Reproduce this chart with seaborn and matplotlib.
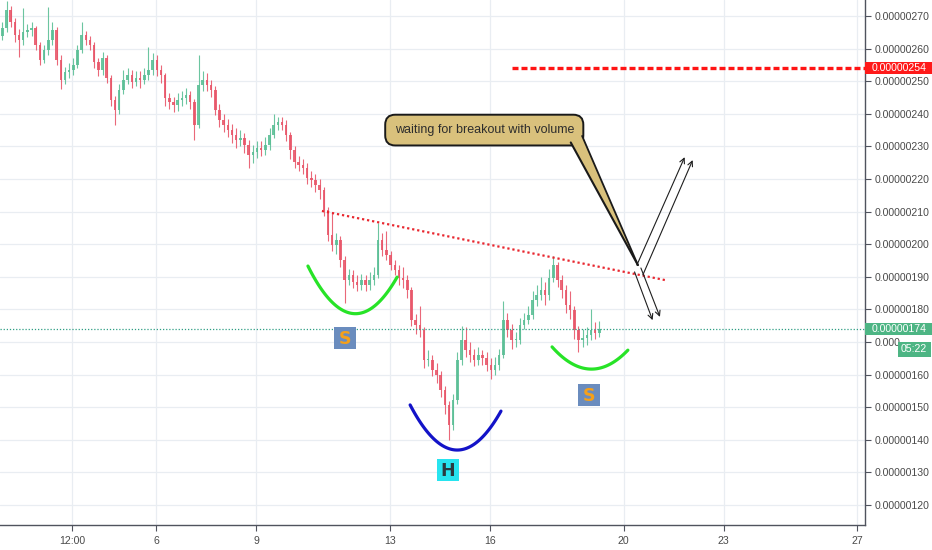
import numpy as np
import pandas as pd
import matplotlib
matplotlib.use("Agg")
import matplotlib.pyplot as plt
import matplotlib.transforms as mtransforms
from matplotlib.patches import Rectangle, Polygon
import seaborn as sns

# ---------------- data (prices in units of 1e-8) ----------------
first_open = 264.0
start_day = 1.40
step_day = 0.125  # 3h candles

close = [266.3, 271.8, 268.2, 264.2, 262.6, 265.1, 265.7, 266.3, 261.1, 256.5,
         259.6, 262.6, 265.7, 256.5, 250.4, 252.8, 253.4, 255.0, 259.6, 264.2,
         262.6, 261.1, 255.9, 253.4, 257.1, 251.0, 244.2, 241.2, 247.3, 250.4,
         251.9, 249.8, 251.0, 250.4, 251.9, 253.4, 256.5, 253.4, 251.9, 244.8,
         243.6, 242.7, 244.2, 244.8, 245.8, 243.6, 236.6, 248.8, 250.4, 248.8,
         247.3, 241.2, 238.1, 236.6, 235.0, 233.5, 232.0, 232.6, 230.4, 227.4,
         228.3, 229.5, 228.9, 230.4, 233.5, 236.6, 237.5, 236.6, 233.5, 228.9,
         225.2, 224.3, 223.4, 220.3, 219.7, 218.2, 216.6, 210.5, 202.8, 199.8,
         201.3, 195.2, 189.0, 190.6, 188.4, 187.5, 189.0, 187.5, 189.0, 190.6,
         201.3, 198.2, 196.7, 193.6, 192.1, 189.6, 189.0, 186.0, 176.7, 175.2,
         173.7, 164.5, 164.5, 161.4, 159.9, 155.3, 150.7, 144.5, 152.2, 164.5,
         170.6, 167.5, 166.0, 164.5, 166.0, 165.1, 163.0, 161.4, 163.0, 166.0,
         176.7, 173.7, 170.6, 170.6, 175.2, 176.7, 178.3, 182.9, 184.4, 186.0,
         184.4, 189.6, 193.6, 189.0, 186.0, 181.3, 179.8, 173.7, 170.6, 171.2,
         172.1, 173.7, 172.8, 174.0]

high = [268.0, 274.5, 273.0, 269.5, 266.0, 272.5, 267.5, 268.0, 267.0, 262.0,
        261.0, 272.8, 268.0, 266.5, 258.0, 254.5, 255.5, 257.0, 261.0, 268.0,
        265.5, 264.0, 262.0, 257.0, 259.0, 258.0, 252.0, 245.5, 249.0, 253.5,
        254.0, 253.5, 253.0, 253.0, 254.0, 260.5, 258.5, 258.0, 255.0, 252.5,
        246.5, 245.0, 246.5, 247.0, 248.0, 247.0, 244.5, 258.0, 253.0, 252.5,
        250.5, 248.5, 243.0, 240.0, 238.5, 237.0, 235.5, 235.0, 234.0, 232.0,
        230.5, 231.5, 231.5, 233.0, 235.5, 240.0, 239.0, 239.0, 238.0, 234.5,
        230.0, 227.0, 226.0, 225.0, 222.5, 221.5, 220.0, 217.5, 211.5, 209.5,
        203.5, 202.5, 196.5, 192.5, 192.0, 190.5, 191.0, 190.5, 191.5, 193.0,
        206.5, 203.5, 204.0, 198.0, 195.0, 193.5, 193.0, 190.5, 187.0, 178.5,
        181.0, 174.5, 167.5, 166.0, 163.5, 161.0, 156.5, 152.0, 154.0, 167.0,
        175.0, 174.5, 170.0, 168.0, 168.5, 167.5, 167.0, 165.0, 165.5, 168.0,
        182.5, 179.0, 175.5, 173.0, 177.5, 179.0, 181.0, 185.5, 187.5, 190.0,
        188.5, 192.5, 196.5, 194.5, 190.5, 187.5, 185.5, 181.0, 175.0, 174.0,
        174.5, 180.0, 176.0, 176.5]

low = [262.5, 265.0, 266.5, 262.0, 257.5, 261.0, 263.5, 264.0, 259.5, 255.0,
       255.5, 258.0, 261.0, 255.0, 247.5, 249.0, 251.0, 252.0, 254.0, 258.5,
       261.0, 259.5, 254.0, 251.5, 252.0, 249.5, 242.5, 236.5, 240.0, 246.0,
       249.0, 248.0, 248.5, 248.0, 249.0, 250.5, 252.0, 251.5, 249.5, 242.5,
       241.5, 240.5, 241.0, 242.5, 243.0, 241.5, 232.0, 235.5, 247.0, 247.0,
       245.0, 239.5, 236.0, 234.5, 233.0, 231.0, 229.5, 230.0, 228.0, 223.5,
       225.0, 226.5, 227.0, 227.5, 229.0, 232.5, 235.0, 235.0, 231.5, 226.0,
       223.5, 222.5, 221.5, 218.5, 217.5, 216.0, 214.0, 208.5, 201.0, 198.0,
       197.0, 193.0, 182.0, 187.5, 186.5, 185.5, 186.0, 185.5, 186.0, 187.5,
       189.5, 196.5, 195.0, 192.0, 190.5, 187.5, 186.5, 183.5, 175.0, 172.5,
       171.5, 162.0, 162.5, 159.5, 157.5, 153.0, 148.0, 140.0, 143.0, 151.0,
       163.0, 165.5, 164.0, 162.5, 163.0, 163.0, 161.0, 158.5, 160.0, 161.5,
       165.0, 171.5, 168.0, 168.5, 169.5, 174.0, 175.5, 177.0, 181.0, 183.0,
       181.5, 183.0, 188.5, 187.0, 183.5, 179.0, 177.0, 171.0, 167.0, 168.5,
       169.0, 170.5, 171.0, 171.5]

y_ticks = [120, 130, 140, 150, 160, 170, 180, 190, 200, 210, 220, 230, 240, 250, 260, 270]
y_labels = ["0.00000120", "0.00000130", "0.00000140", "0.00000150", "0.00000160",
            "0.000", "0.00000180", "0.00000190", "0.00000200", "0.00000210",
            "0.00000220", "0.00000230", "0.00000240", "0.00000250", "0.00000260",
            "0.00000270"]
x_ticks = [3.5, 6, 9, 13, 16, 20, 23, 27]
x_labels = ["12:00", "6", "9", "13", "16", "20", "23", "27"]

last_price = 174
target_price = 254
target_start_day = 16.66
countdown = "05:22"

# annotation drawing anchors (day, price)
trend_pts_day = [10.97, 21.24]
trend_pts_price = [210.2, 189.0]
left_shoulder = [(10.55, 193.3), (11.80, 178.9), (13.22, 189.9)]
head = [(13.61, 150.7), (14.80, 137.2), (16.33, 148.8)]
right_shoulder = [(17.86, 168.5), (18.99, 161.7), (20.13, 167.5)]
labels = [("S", 11.66, 171.2, "#6a8cbe", "#f5a01a"),
          ("S", 18.96, 153.7, "#6a8cbe", "#f5a01a"),
          ("H", 14.74, 130.7, "#27e4ef", "#2b3a3f")]
callout_text = "waiting for breakout with volume"
callout_center = (15.83, 235.0)
callout_tail = [(18.42, 231.2), (18.76, 233.2), (20.43, 193.6)]
arrows = [((20.40, 193.6), (21.83, 226.7)),
          ((20.58, 190.6), (22.07, 225.8)),
          ((20.33, 191.5), (20.87, 176.7)),
          ((20.52, 192.7), (21.09, 177.7))]

# ---------------- build frame ----------------
n = len(close)
opens = [first_open] + close[:-1]
df = pd.DataFrame({
    "t": start_day + step_day * np.arange(n),
    "open": opens, "close": close, "high": high, "low": low,
})
df["up"] = df["close"] >= df["open"]

sns.set_theme(style="white")
plt.rcParams["font.family"] = ["Liberation Sans", "DejaVu Sans"]

PX_DAY = 33.4
PX_PRICE = 3.26

fig = plt.figure(figsize=(9.32, 5.5), dpi=100)
ax = fig.add_axes([0, 25 / 550, 865 / 932, 525 / 550])
ax.set_xlim(1.33, 27.23)
ax.set_ylim(113.87, 274.9)

grid_c = "#e9edf2"
for yt in y_ticks:
    ax.axhline(yt, color=grid_c, lw=0.9, zorder=0)
for xt in x_ticks:
    ax.axvline(xt, color=grid_c, lw=0.9, zorder=0)

up_c, dn_c = "#5cbf96", "#e8576a"
colors = np.where(df["up"], up_c, dn_c)
ax.vlines(df["t"], df["low"], df["high"], colors=colors, lw=0.8, zorder=2, alpha=0.9)
body_h = np.maximum((df["close"] - df["open"]).abs(), 0.35)
body_b = np.minimum(df["close"], df["open"])
ax.bar(df["t"], body_h, bottom=body_b, width=0.075, color=colors, lw=0, zorder=3, alpha=0.9)

# current price dotted line
ax.axhline(last_price, color="#2f9e84", lw=0.9, ls=(0, (1, 1.5)), zorder=4)
# target dashed line
ax.plot([target_start_day, 27.23], [target_price, target_price], color="#ff1414",
        lw=2.4, ls=(0, (1.8, 0.9)), zorder=4, solid_capstyle="butt")

# neckline
sns.lineplot(x=trend_pts_day, y=trend_pts_price, ax=ax, color="#e8262e", lw=1.6,
             linestyle=(0, (1, 1.3)), zorder=5)

def arc(pts, color):
    xs = [p[0] for p in pts]
    ys = [p[1] for p in pts]
    coef = np.polyfit(xs, ys, 2)
    xx = np.linspace(xs[0], xs[-1], 60)
    sns.lineplot(x=xx, y=np.polyval(coef, xx), ax=ax, color=color, lw=2.3, zorder=6)

arc(left_shoulder, "#27e327")
arc(right_shoulder, "#27e327")
arc(head, "#1313c8")

box_w = 22 / PX_DAY
box_h = 22 / PX_PRICE
for txt, xd, yd, bg, fg in labels:
    ax.add_patch(Rectangle((xd - box_w / 2, yd - box_h / 2), box_w, box_h,
                           fc=bg, ec="none", zorder=7))
    ax.text(xd, yd - 0.3, txt, ha="center", va="center", fontsize=12.5, fontweight="bold",
            color=fg, zorder=8, family=["DejaVu Sans"])

# callout
callout_fc = "#d9c17c"
ax.text(callout_center[0], callout_center[1], callout_text, ha="center", va="center",
        fontsize=9, color="#2d2d2d", zorder=8,
        bbox=dict(boxstyle="round,pad=0.75,rounding_size=0.8", fc=callout_fc, ec="#1a1a1a", lw=1.4))
ax.add_patch(Polygon(callout_tail, closed=True, fc=callout_fc, ec="none", zorder=9))
ax.plot([callout_tail[0][0], callout_tail[2][0]], [callout_tail[0][1], callout_tail[2][1]],
        color="#1a1a1a", lw=1.5, zorder=9)
ax.plot([callout_tail[1][0], callout_tail[2][0]], [callout_tail[1][1], callout_tail[2][1]],
        color="#1a1a1a", lw=1.3, zorder=9)

for start, end in arrows:
    ax.annotate("", xy=end, xytext=start,
                arrowprops=dict(arrowstyle="->", lw=0.8, color="#1e1e1e",
                                shrinkA=0, shrinkB=0, mutation_scale=9), zorder=10)

# axes styling
for s in ["left", "top"]:
    ax.spines[s].set_visible(False)
for s in ["right", "bottom"]:
    ax.spines[s].set_color("#50535e")
    ax.spines[s].set_linewidth(1.0)
ax.yaxis.tick_right()
ax.set_yticks(y_ticks)
ax.set_yticklabels(y_labels)
ax.set_xticks(x_ticks)
ax.set_xticklabels(x_labels)
ax.tick_params(axis="y", right=True, length=4, width=0.8, color="#50535e",
               labelsize=7.6, labelcolor="#4a4a4a", pad=3)
ax.tick_params(axis="x", bottom=True, length=4, width=0.8, color="#50535e",
               labelsize=7.6, labelcolor="#4a4a4a", pad=4)
ax.set_xlabel("")
ax.set_ylabel("")

# price tags on the right axis
blend = mtransforms.blended_transform_factory(ax.transAxes, ax.transData)
tag_w = 67 / 865
tag_h = 12.5 / PX_PRICE
for price, col in [(target_price, "#ff1a1a"), (last_price, "#4db584")]:
    ax.add_patch(Rectangle((1.0, price - tag_h / 2), tag_w, tag_h, transform=blend,
                           fc=col, ec="none", clip_on=False, zorder=20))
    ax.text(1.0 + 7 / 865, price, f"0.00000{price:03d}", transform=blend, ha="left",
            va="center", fontsize=7.6, color="white", zorder=21, clip_on=False)
cd_price = 167.8
ax.add_patch(Rectangle((898 / 865, cd_price - 15 / PX_PRICE / 2), 33 / 865, 15 / PX_PRICE,
                       transform=blend, fc="#4db584", ec="none", clip_on=False, zorder=20))
ax.text(914 / 865, cd_price, countdown, transform=blend, ha="center", va="center",
        fontsize=7.6, color="white", zorder=21, clip_on=False)

if ax.get_legend() is not None:
    ax.get_legend().remove()

fig.savefig("out.png", dpi=100, facecolor="white")
